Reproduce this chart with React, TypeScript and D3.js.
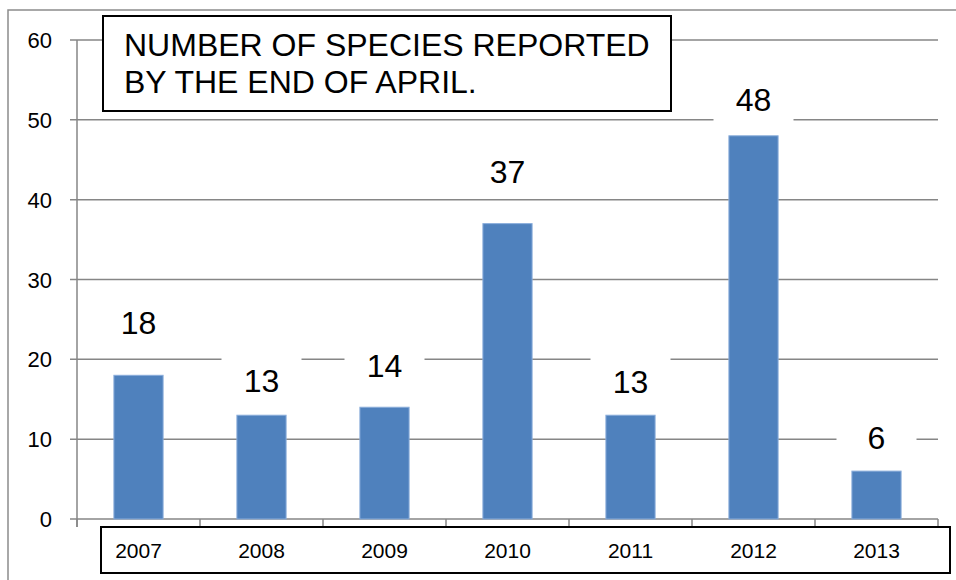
import { useEffect, useRef } from 'react'
import * as d3 from 'd3'

// chart data
const years = ['2007', '2008', '2009', '2010', '2011', '2012', '2013']
const species = [18, 13, 14, 37, 13, 48, 6]
const yTicks = [0, 10, 20, 30, 40, 50, 60]
const titleLines = ['NUMBER OF SPECIES REPORTED', 'BY THE END OF APRIL.']

// how far (px) each value label sits above its bar, as in the original
const labelLift = [41, 23, 30, 41, 22, 25, 22]

export default function App() {
  const svgRef = useRef<SVGSVGElement>(null)

  useEffect(() => {
    if (!svgRef.current) return
    const W = 956
    const H = 580
    const font = '"Liberation Sans", Arial, sans-serif'
    const gridColor = '#868686'

    d3.select(svgRef.current).selectAll('*').remove()
    const svg = d3.select(svgRef.current)
      .attr('width', W)
      .attr('height', H)
      .style('font-family', font)

    const plot = { left: 77, right: 938, top: 40, bottom: 519 }

    const x = d3.scaleBand<string>()
      .domain(years)
      .range([plot.left, plot.right])
      .paddingInner(0.6)
      .paddingOuter(0.3)

    const y = d3.scaleLinear()
      .domain([0, 60])
      .range([plot.bottom, plot.top])

    // outer frame
    svg.append('rect')
      .attr('x', 8).attr('y', 10)
      .attr('width', W).attr('height', H)
      .attr('fill', 'white')
      .attr('stroke', '#8c8c8c')
      .attr('stroke-width', 1.5)

    // gridlines + y ticks
    svg.append('g')
      .selectAll('line')
      .data(yTicks)
      .join('line')
      .attr('x1', plot.left - 7)
      .attr('x2', plot.right)
      .attr('y1', d => y(d))
      .attr('y2', d => y(d))
      .attr('stroke', gridColor)
      .attr('stroke-width', 1.5)

    // y axis line
    svg.append('line')
      .attr('x1', plot.left).attr('x2', plot.left)
      .attr('y1', plot.top).attr('y2', plot.bottom + 8)
      .attr('stroke', gridColor)
      .attr('stroke-width', 1.5)

    // y labels
    svg.append('g')
      .selectAll('text')
      .data(yTicks)
      .join('text')
      .attr('x', 52)
      .attr('y', d => y(d) + 8)
      .attr('text-anchor', 'end')
      .attr('font-size', 22)
      .attr('fill', '#000')
      .text(d => d)

    // category tick marks
    const step = x.step()
    const bounds = years.map(d => (x(d) as number) + x.bandwidth() / 2 - step / 2)
    bounds.push(bounds[bounds.length - 1] + step)
    svg.append('g')
      .selectAll('line')
      .data(bounds)
      .join('line')
      .attr('x1', d => d).attr('x2', d => d)
      .attr('y1', plot.bottom).attr('y2', plot.bottom + 8)
      .attr('stroke', gridColor)
      .attr('stroke-width', 1.5)

    // bars
    svg.append('g')
      .selectAll('rect')
      .data(species)
      .join('rect')
      .attr('x', (_, i) => x(years[i]) as number)
      .attr('y', d => y(d))
      .attr('width', x.bandwidth())
      .attr('height', d => y(0) - y(d))
      .attr('fill', '#4f81bd')
      .attr('stroke', '#8aaddb')
      .attr('stroke-width', 1)

    // value labels with white backing
    const labels = svg.append('g')
      .selectAll('g')
      .data(species)
      .join('g')
      .attr('transform', (d, i) => {
        const cx = (x(years[i]) as number) + x.bandwidth() / 2
        return `translate(${cx},${y(d) - labelLift[i]})`
      })

    labels.append('rect')
      .attr('x', -40)
      .attr('y', -37)
      .attr('width', 80)
      .attr('height', 49)
      .attr('fill', 'white')

    labels.append('text')
      .attr('text-anchor', 'middle')
      .attr('font-size', 32)
      .attr('fill', '#000')
      .text(d => d)

    // title box
    svg.append('rect')
      .attr('x', 103).attr('y', 16)
      .attr('width', 568).attr('height', 95)
      .attr('fill', 'white')
      .attr('stroke', '#000')
      .attr('stroke-width', 2)

    svg.append('g')
      .selectAll('text')
      .data(titleLines)
      .join('text')
      .attr('x', 124)
      .attr('y', (_, i) => 56 + i * 37)
      .attr('font-size', 32)
      .attr('fill', '#000')
      .text(d => d)

    // category label box
    svg.append('rect')
      .attr('x', 101).attr('y', 527)
      .attr('width', 849).attr('height', 46)
      .attr('fill', 'white')
      .attr('stroke', '#000')
      .attr('stroke-width', 2)

    svg.append('g')
      .selectAll('text')
      .data(years)
      .join('text')
      .attr('x', d => (x(d) as number) + x.bandwidth() / 2)
      .attr('y', 558)
      .attr('text-anchor', 'middle')
      .attr('font-size', 21)
      .attr('fill', '#000')
      .text(d => d)
  }, [])

  return (
    <div style={{ position: 'absolute', left: 0, top: 0, width: 956, height: 580, overflow: 'hidden', background: 'white' }}>
      <svg ref={svgRef} style={{ display: 'block' }}></svg>
    </div>
  )
}
